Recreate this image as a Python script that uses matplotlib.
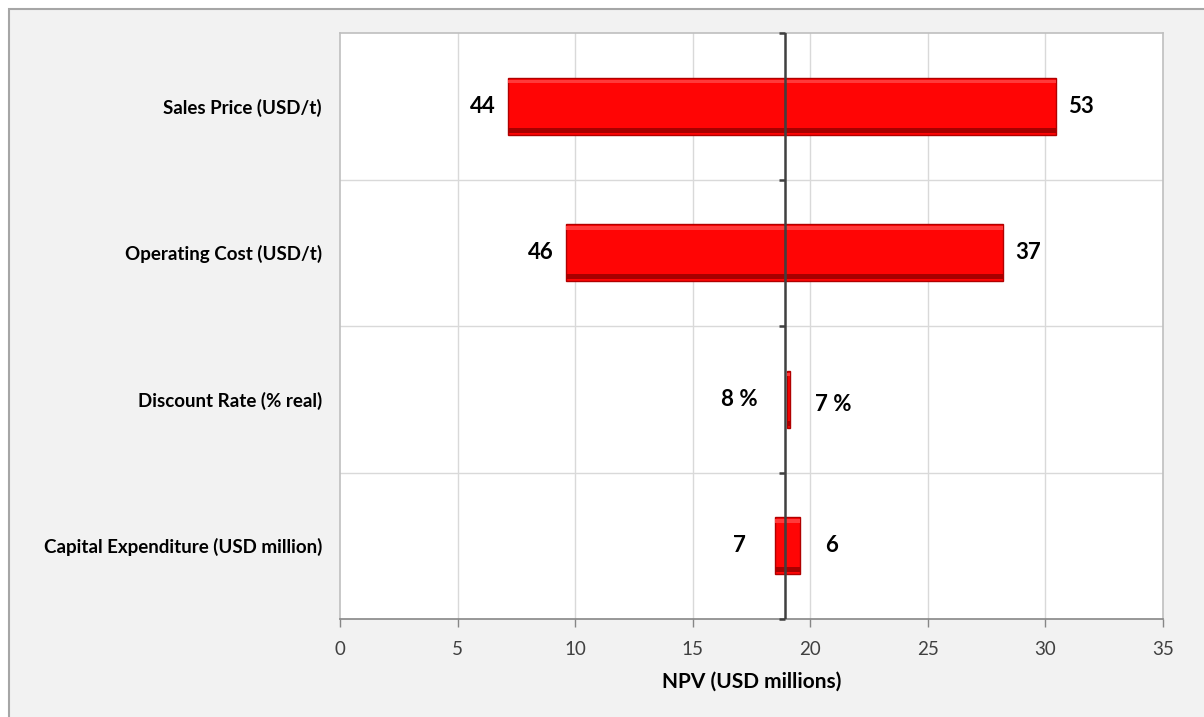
import matplotlib.pyplot as plt
from matplotlib.patches import Rectangle

# Tornado chart data: NPV at low / high case of each driver
categories = ['Sales Price (USD/t)', 'Operating Cost (USD/t)',
              'Discount Rate (% real)', 'Capital Expenditure (USD million)']
npv_left = [7.15, 9.6, 19.03, 18.5]
npv_right = [30.45, 28.2, 19.15, 19.57]
base_npv = 18.93
left_labels = ['44', '46', '8 %', '7']
right_labels = ['53', '37', '7 %', '6']
xticks = [0, 5, 10, 15, 20, 25, 30, 35]

# label gaps in pixels from the bar ends (style, not data)
left_gap = [12, 12, 30, 29]
right_gap = [12, 12, 25, 25]
right_dy = [0, 0, -5, 0]

plt.rcParams['font.family'] = ['Lato', 'DejaVu Sans']

fig = plt.figure(figsize=(12.04, 7.17), dpi=100, facecolor='white')
fig.patches.append(Rectangle((9 / 1204, -0.1), 1.2, 1 - 9 / 717 + 0.1,
                             transform=fig.transFigure, facecolor='#f2f2f2',
                             edgecolor='#a6a6a6', linewidth=1.5, zorder=-10))

ax = fig.add_axes([340 / 1204, 1 - 619 / 717, 823 / 1204, 586 / 717])
ax.set_facecolor('white')

n = len(categories)
ypos = list(range(n))
bar_h = 0.39


def draw_bar(x0, x1, y):
    lo, hi = min(x0, x1), max(x0, x1)
    w = hi - lo
    if w <= 0:
        return
    ax.barh(y, w, left=lo, height=bar_h, color='#ff0505',
            edgecolor='#b00000', linewidth=1.0, zorder=3)
    # bevel: dark lower strip and light upper strip
    ax.barh(y + bar_h * 0.42, w, left=lo, height=bar_h * 0.08,
            color='#a80000', linewidth=0, zorder=4)
    ax.barh(y - bar_h * 0.43, w, left=lo, height=bar_h * 0.06,
            color='#ff3a3a', linewidth=0, zorder=4)


for i in range(n):
    if npv_left[i] < base_npv and npv_right[i] > base_npv:
        draw_bar(npv_left[i], base_npv, i)
        draw_bar(base_npv, npv_right[i], i)
    else:
        draw_bar(npv_left[i], npv_right[i], i)

    ax.annotate(left_labels[i], (npv_left[i], i), xytext=(-left_gap[i] * 0.72, 0),
                textcoords='offset points', ha='right', va='center',
                fontsize=16, fontweight='bold', color='black', zorder=6)
    ax.annotate(right_labels[i], (npv_right[i], i),
                xytext=(right_gap[i] * 0.72, right_dy[i] * 0.72),
                textcoords='offset points', ha='left', va='center',
                fontsize=16, fontweight='bold', color='black', zorder=6)

ax.set_xlim(0, 35)
ax.set_ylim(n - 0.5, -0.5)
ax.set_xticks(xticks)
ax.set_xticklabels([str(t) for t in xticks], fontsize=13.5, color='#404040')
ax.tick_params(axis='x', length=6, width=1, color='#868686', pad=10)
ax.set_yticks(ypos)
ax.set_yticklabels(categories, fontsize=13.5, fontweight='bold')
ax.tick_params(axis='y', length=0, pad=13)
ax.set_xlabel('NPV (USD millions)', fontsize=15, fontweight='bold', labelpad=10)

# grid
for t in xticks[1:-1]:
    ax.axvline(t, color='#d9d9d9', linewidth=1, zorder=1)
for b in [0.5, 1.5, 2.5]:
    ax.axhline(b, color='#d9d9d9', linewidth=1, zorder=1)

for side in ['left', 'top', 'right']:
    ax.spines[side].set_color('#bfbfbf')
    ax.spines[side].set_linewidth(1.2)
ax.spines['bottom'].set_color('#868686')
ax.spines['bottom'].set_linewidth(1.2)

# category axis crossing at the base-case NPV
ax.axvline(base_npv, color='#404040', linewidth=1.8, zorder=5)
for b in [-0.5, 0.5, 1.5, 2.5, 3.5]:
    ax.plot([base_npv - 0.25, base_npv], [b, b], color='#404040',
            linewidth=1.8, zorder=5, clip_on=False, solid_capstyle='butt')

fig.savefig('out.png', dpi=100, facecolor=fig.get_facecolor())
